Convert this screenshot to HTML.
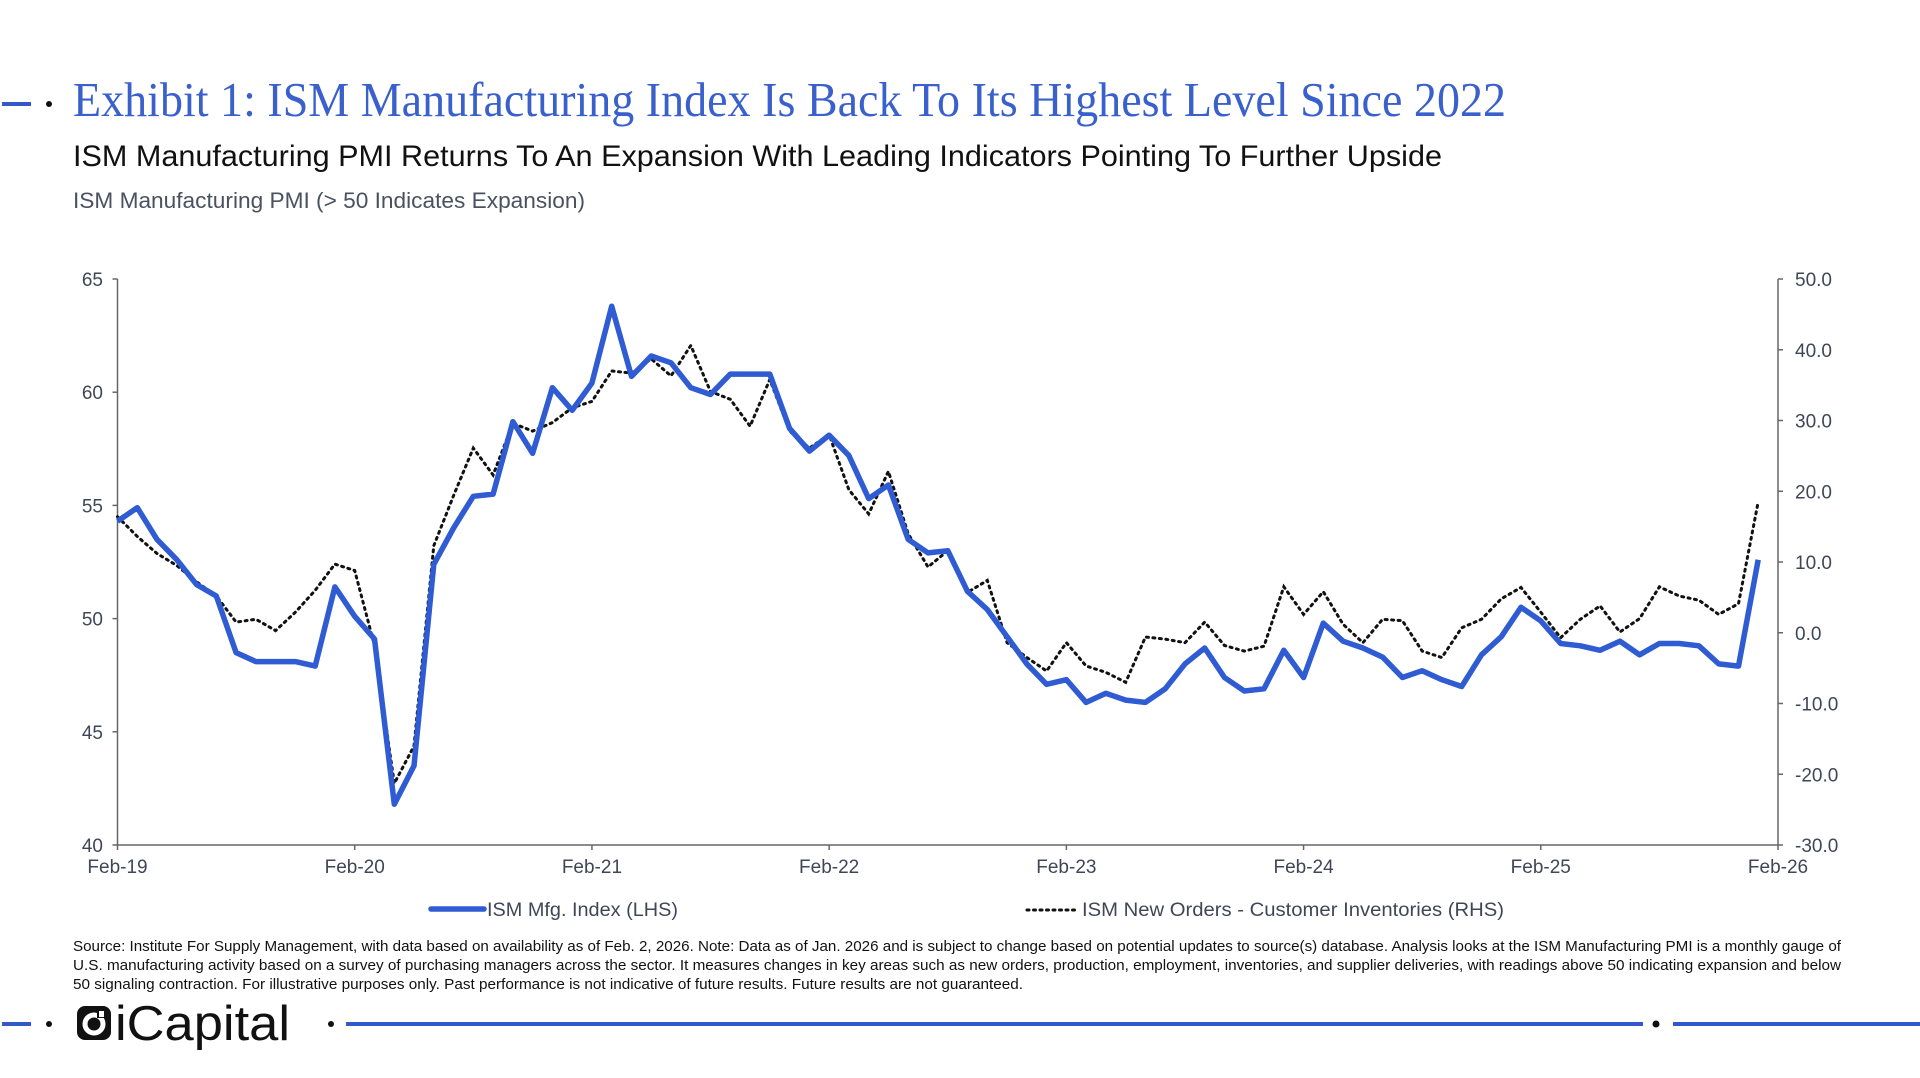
<!DOCTYPE html>
<html><head><meta charset="utf-8"><style>
html,body{margin:0;padding:0;background:#fff;}
svg{display:block;}
text{font-family:"Liberation Sans",sans-serif;}
</style></head><body>
<svg id="s" width="1920" height="1078" viewBox="0 0 1920 1078" xmlns="http://www.w3.org/2000/svg">
<rect width="1920" height="1078" fill="#fff"/>
<line x1="2" y1="104" x2="31" y2="104" stroke="#3358c9" stroke-width="4"/>
<circle cx="49" cy="104" r="3" fill="#111"/>
<text x="73" y="116" style="font-family:'Liberation Serif',serif" font-size="49" fill="#3a60cc" textLength="1433" lengthAdjust="spacingAndGlyphs">Exhibit 1: ISM Manufacturing Index Is Back To Its Highest Level Since 2022</text>
<text x="73" y="166" font-size="30" fill="#111" textLength="1369" lengthAdjust="spacingAndGlyphs">ISM Manufacturing PMI Returns To An Expansion With Leading Indicators Pointing To Further Upside</text>
<text x="73" y="208" font-size="22" fill="#4a5160" textLength="512" lengthAdjust="spacingAndGlyphs">ISM Manufacturing PMI (&gt; 50 Indicates Expansion)</text>
<g id="axes" stroke="#666" stroke-width="1.5" fill="none"></g>
<g id="labels" font-size="19" fill="#3f4756"></g>
<polyline id="rhs" fill="none" stroke="#111" stroke-width="3" stroke-dasharray="2 4.5" stroke-linecap="round"/>
<polyline id="lhs" fill="none" stroke="#2f5bd3" stroke-width="5.5" stroke-linejoin="round"/>
<line x1="431" y1="909" x2="484" y2="909" stroke="#2f5bd3" stroke-width="5.5" stroke-linecap="round"/>
<text x="487" y="916" font-size="19" fill="#3f4756" textLength="191" lengthAdjust="spacingAndGlyphs">ISM Mfg. Index (LHS)</text>
<line x1="1027" y1="910" x2="1077" y2="910" stroke="#111" stroke-width="3" stroke-dasharray="2 4.5" stroke-linecap="round"/>
<text x="1082" y="916" font-size="19" fill="#3f4756" textLength="422" lengthAdjust="spacingAndGlyphs">ISM New Orders - Customer Inventories (RHS)</text>
<g font-size="15" fill="#111">
<text x="73" y="951" textLength="1768" lengthAdjust="spacingAndGlyphs">Source: Institute For Supply Management, with data based on availability as of Feb. 2, 2026. Note: Data as of Jan. 2026 and is subject to change based on potential updates to source(s) database. Analysis looks at the ISM Manufacturing PMI is a monthly gauge of</text>
<text x="73" y="970" textLength="1768" lengthAdjust="spacingAndGlyphs">U.S. manufacturing activity based on a survey of purchasing managers across the sector. It measures changes in key areas such as new orders, production, employment, inventories, and supplier deliveries, with readings above 50 indicating expansion and below</text>
<text x="73" y="989" textLength="950" lengthAdjust="spacingAndGlyphs">50 signaling contraction. For illustrative purposes only. Past performance is not indicative of future results. Future results are not guaranteed.</text>
</g>
<line x1="2" y1="1024" x2="31" y2="1024" stroke="#3358c9" stroke-width="4"/>
<circle cx="49" cy="1024" r="3" fill="#111"/>
<rect x="77" y="1006" width="34" height="34" rx="8" fill="#111"/>
<circle cx="94" cy="1024" r="9" fill="none" stroke="#fff" stroke-width="5"/>
<rect x="97" y="1010" width="8" height="8" fill="#111"/>
<rect x="99" y="1011" width="5" height="6" fill="#fff"/>
<text x="115" y="1040" font-size="49" fill="#111" textLength="175" lengthAdjust="spacingAndGlyphs">iCapital</text>
<circle cx="331" cy="1024" r="3" fill="#111"/>
<line x1="346" y1="1024" x2="1643" y2="1024" stroke="#3358c9" stroke-width="4"/>
<circle cx="1656" cy="1024" r="3.5" fill="#111"/>
<line x1="1673" y1="1024" x2="1920" y2="1024" stroke="#3358c9" stroke-width="4"/>
</svg>
<script>
var L=[54.3,54.9,53.5,52.6,51.5,51.0,48.5,48.1,48.1,48.1,47.9,51.4,50.1,49.1,41.8,43.5,52.4,54.0,55.4,55.5,58.7,57.3,60.2,59.2,60.4,63.8,60.7,61.6,61.3,60.2,59.9,60.8,60.8,60.8,58.4,57.4,58.1,57.2,55.3,55.9,53.5,52.9,53.0,51.2,50.4,49.2,48.0,47.1,47.3,46.3,46.7,46.4,46.3,46.9,48.0,48.7,47.4,46.8,46.9,48.6,47.4,49.8,49.0,48.7,48.3,47.4,47.7,47.3,47.0,48.4,49.2,50.5,49.9,48.9,48.8,48.6,49.0,48.4,48.9,48.9,48.8,48.0,47.9,52.6];
var R=[16.4,13.6,11.2,9.5,7.2,5.2,1.5,1.9,0.3,2.9,6.0,9.7,8.8,-1.8,-21.3,-16,12.3,19.4,26.1,22.3,29.6,28.5,29.7,31.8,32.7,37.0,36.7,38.7,36.3,40.6,34.1,33.0,29.2,35.8,28.5,26.1,28,20.2,16.8,22.8,14.0,9.3,11.6,5.7,7.4,-1.4,-3.5,-5.4,-1.4,-4.7,-5.6,-7.0,-0.6,-0.9,-1.4,1.5,-1.8,-2.6,-1.9,6.5,2.6,5.8,1.2,-1.4,1.9,1.7,-2.6,-3.5,0.7,1.9,4.8,6.4,2.9,-0.7,1.9,3.8,0.1,2.0,6.5,5.2,4.6,2.6,4.1,18.5];
var X0=117.5,X1=1778,T=279,B=845,dx=(X1-X0)/84;
function yl(v){return T+(65-v)*(B-T)/25}
function yr(v){return T+(50-v)*(B-T)/80}
document.getElementById('lhs').setAttribute('points',L.map(function(v,i){return (X0+i*dx).toFixed(1)+','+yl(v).toFixed(1)}).join(' '));
document.getElementById('rhs').setAttribute('points',R.map(function(v,i){return (X0+i*dx).toFixed(1)+','+yr(v).toFixed(1)}).join(' '));
var ns='http://www.w3.org/2000/svg',ax=document.getElementById('axes'),lb=document.getElementById('labels');
function ln(a,b,c,d){var e=document.createElementNS(ns,'line');e.setAttribute('x1',a);e.setAttribute('y1',b);e.setAttribute('x2',c);e.setAttribute('y2',d);ax.appendChild(e);}
function tx(x,y,s,anc){var e=document.createElementNS(ns,'text');e.setAttribute('x',x);e.setAttribute('y',y);e.setAttribute('text-anchor',anc);e.textContent=s;lb.appendChild(e);}
ln(X0,T,X0,B);ln(X0,B,X1,B);ln(X1,T,X1,B);
for(var v=40;v<=65;v+=5){var y=yl(v);ln(X0-5,y,X0,y);tx(103,y+7,String(v),'end');}
for(var v=-30;v<=50;v+=10){var y=yr(v);ln(X1,y,X1+5,y);tx(1795,y+7,v.toFixed(1),'start');}
for(var k=0;k<=7;k++){var x=X0+k*12*dx;ln(x,B,x,B+5);tx(x,873,'Feb-'+(19+k),'middle');}
</script>
</body></html>
